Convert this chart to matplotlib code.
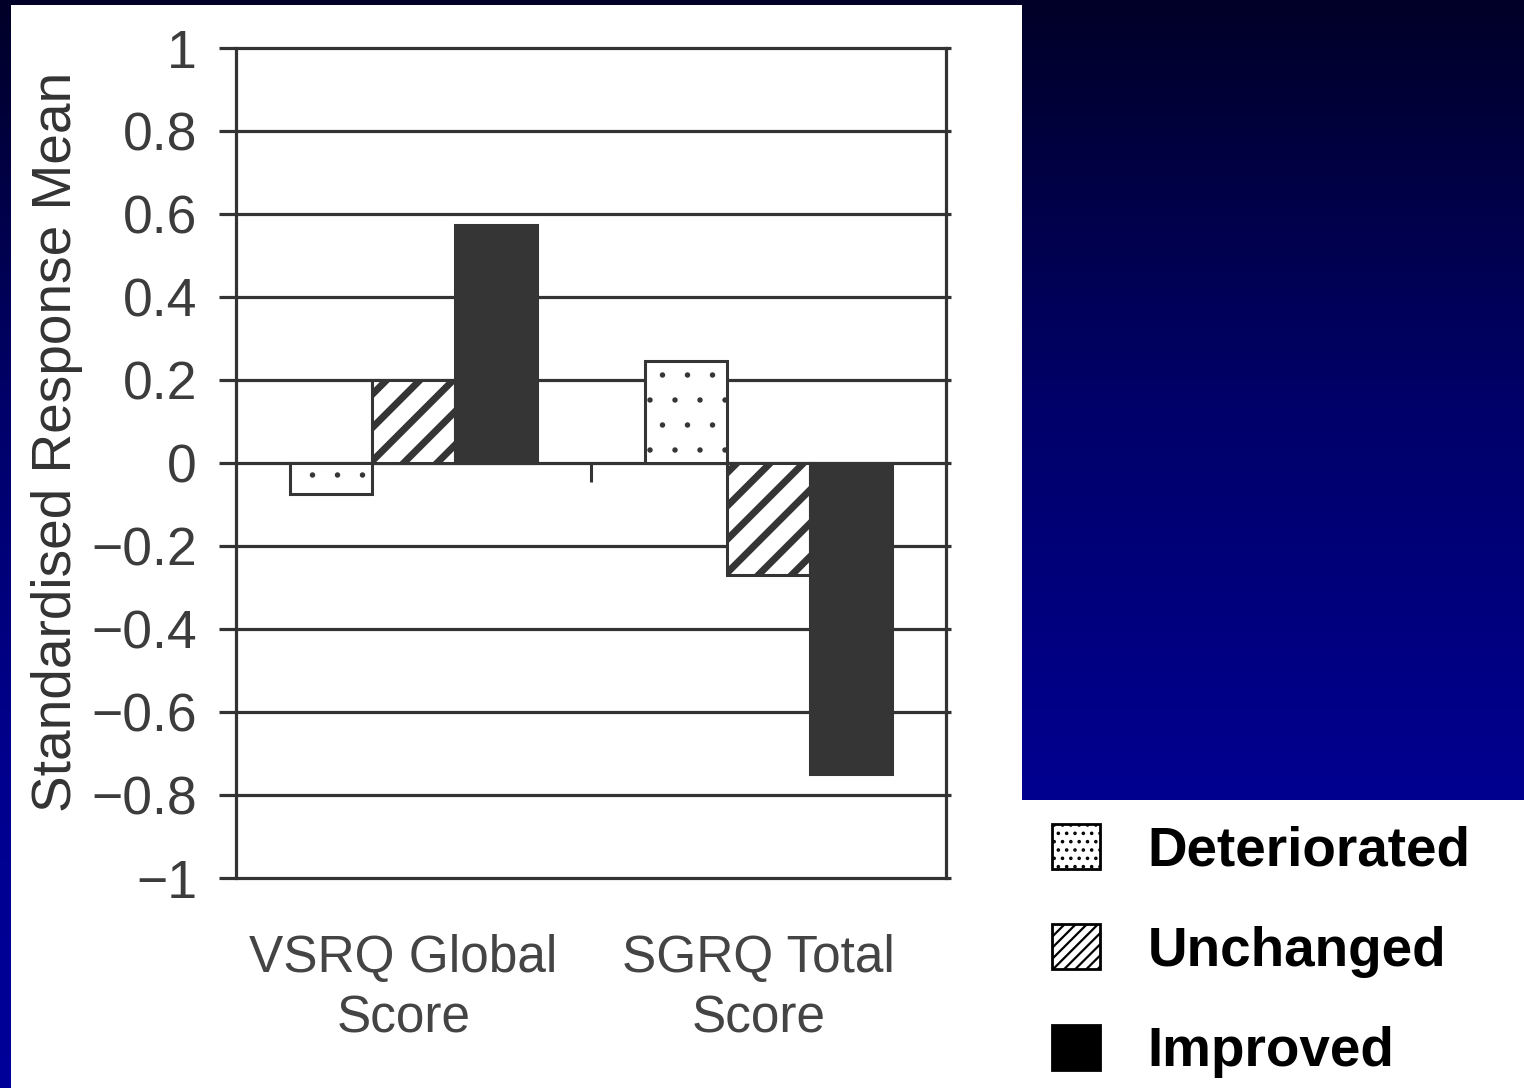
import numpy as np
import matplotlib
matplotlib.use("Agg")
import matplotlib.pyplot as plt
import matplotlib.hatch as mhatch
import matplotlib.transforms as mtransforms
from matplotlib.patches import Rectangle, Patch

# ---------------- data ----------------
categories = ["VSRQ Global\nScore", "SGRQ Total\nScore"]
series_names = ["Deteriorated", "Unchanged", "Improved"]
deteriorated = [-0.075, 0.245]
unchanged = [0.20, -0.27]
improved = [0.573, -0.75]
ytick_values = [1, 0.8, 0.6, 0.4, 0.2, 0, -0.2, -0.4, -0.6, -0.8, -1]
ytick_labels = ["1", "0.8", "0.6", "0.4", "0.2", "0",
                "\u22120.2", "\u22120.4", "\u22120.6", "\u22120.8", "\u22121"]
ylabel = "Standardised Response Mean"

# ---------------- sparser dot hatch (closer to the original texture) ----------------
class _SparseDots(mhatch.Circles):
    size = 0.08
    filled = True

    def __init__(self, hatch, density):
        self.num_rows = hatch.count('.') * 4
        mhatch.Circles.__init__(self, hatch, density)


mhatch._hatch_types[:] = [
    _SparseDots if t is mhatch.SmallFilledCircles else t
    for t in mhatch._hatch_types
]

plt.rcParams['font.family'] = ['Liberation Sans', 'DejaVu Sans']

W, H = 1524, 1088
fig = plt.figure(figsize=(W / 100, H / 100), dpi=100)

# ---------------- background gradient + white panels ----------------
bg = fig.add_axes([0, 0, 1, 1], zorder=-10)
rows = np.linspace(0, 1, 256)
blue = np.interp(rows, [0, 0.37, 0.71, 1.0], [40, 105, 142, 153]) / 255
img = np.zeros((256, 1, 3))
img[:, 0, 2] = blue
bg.imshow(img, aspect='auto', extent=[0, 1, 0, 1], origin='upper')
bg.set_axis_off()

fig.add_artist(Rectangle((11 / W, 0), 1011 / W, 1083 / H, transform=fig.transFigure,
                         facecolor='white', edgecolor='none', zorder=-5))
fig.add_artist(Rectangle((1022 / W, 0), 502 / W, 288 / H, transform=fig.transFigure,
                         facecolor='white', edgecolor='none', zorder=-5))

# ---------------- main axes ----------------
ax = fig.add_axes([236 / W, 210 / H, 710 / W, 830 / H], zorder=0)
ax.set_facecolor('none')
ax.set_xlim(-0.5, 1.5)
ax.set_ylim(-1, 1)

dark = '#353535'
x = np.arange(len(categories))
bw = 0.232
styles = [
    dict(facecolor='white', edgecolor=dark, hatch='.', hlw=1.0),
    dict(facecolor='white', edgecolor=dark, hatch='/', hlw=5.0),
    dict(facecolor=dark, edgecolor=dark, hatch=None, hlw=1.0),
]
series = [deteriorated, unchanged, improved]
for i, (vals, st) in enumerate(zip(series, styles)):
    with plt.rc_context({'hatch.linewidth': st['hlw']}):
        bars = ax.bar(x + (i - 1) * bw, vals, width=bw, facecolor=st['facecolor'],
                      edgecolor=st['edgecolor'], hatch=st['hatch'], linewidth=2.2,
                      zorder=3)
        for b in bars:
            if hasattr(b, 'set_hatch_linewidth'):
                b.set_hatch_linewidth(st['hlw'])

# gridlines incl. short outward ticks on both sides
ax.hlines(ytick_values, -17 / 710, 1 + 5 / 710, transform=ax.get_yaxis_transform(),
          colors='#333333', linewidth=2.3, clip_on=False, zorder=2)

for s in ['top', 'bottom']:
    ax.spines[s].set_visible(False)
for s in ['left', 'right']:
    ax.spines[s].set_color('#333333')
    ax.spines[s].set_linewidth(2.3)

ax.set_yticks(ytick_values)
ax.set_yticklabels(ytick_labels)
ax.tick_params(axis='y', length=0, pad=28, labelsize=38.5, labelcolor='#3c3c3c')
ax.set_xticks(x)
ax.set_xticklabels(categories, linespacing=1.32)
ax.tick_params(axis='x', length=0, pad=40, labelsize=37, labelcolor='#444444')
shift = mtransforms.ScaledTranslation(-10 / 100, 0, fig.dpi_scale_trans)
for lab in ax.get_xticklabels():
    lab.set_transform(lab.get_transform() + shift)

ax.set_ylabel(ylabel, fontsize=39.6, color='#333333')
ax.yaxis.set_label_coords(-0.2155, 0.525)

# category separator tick on the zero line
zero_loc = (0 - (-1)) / (1 - (-1))
sec = ax.secondary_xaxis(zero_loc)
sec.set_alignment('bottom')
sec.set_xticks([0.5])
sec.tick_params(axis='x', direction='out', length=14, width=2.2, color='#333333',
                labelbottom=False, labeltop=False)
for s in sec.spines.values():
    s.set_visible(False)

# ---------------- legend ----------------
handles = [
    Patch(facecolor='white', edgecolor='black', hatch='...', linewidth=2),
    Patch(facecolor='white', edgecolor='black', hatch='///', linewidth=2),
    Patch(facecolor='black', edgecolor='black', linewidth=2),
]
with plt.rc_context({'hatch.linewidth': 1.6}):
    leg = fig.legend(handles, series_names, loc='upper left',
                     bbox_to_anchor=(1052 / W, 1 - 824 / H), frameon=False,
                     prop={'weight': 'bold', 'size': 39.5}, handlelength=0.875,
                     handleheight=0.875, handletextpad=0.87, labelspacing=0.86,
                     borderpad=0, borderaxespad=0)

fig.savefig('out.png', dpi=100)
